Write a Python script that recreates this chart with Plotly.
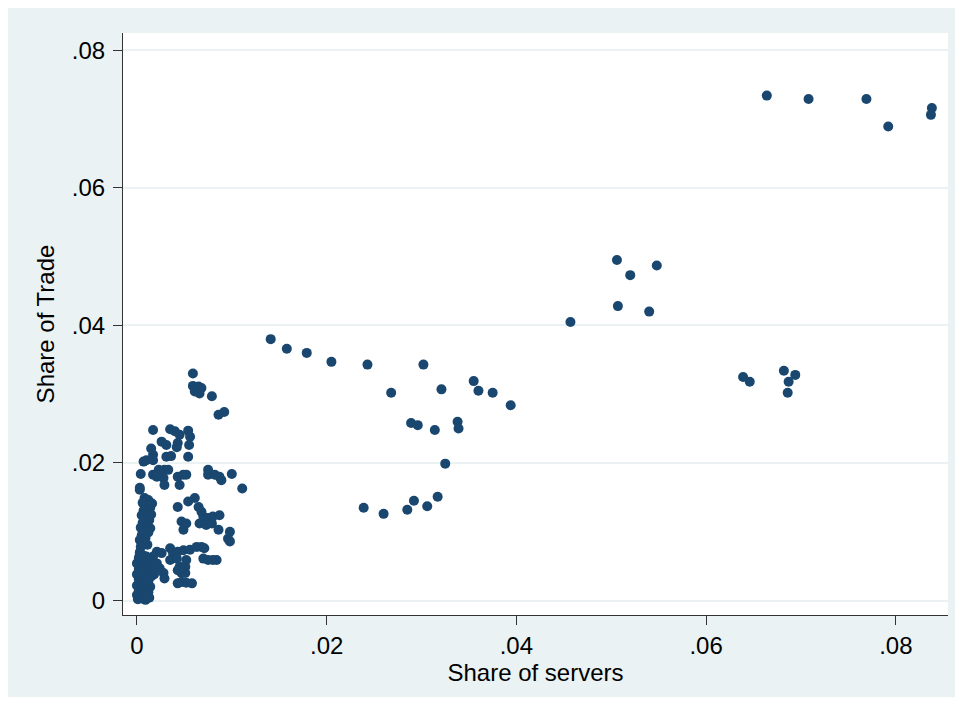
import plotly.graph_objects as go

# Share of servers (x) and Share of Trade (y)
share_servers = [
    # high outliers
    0.0664, 0.0708, 0.0769, 0.0792, 0.0838, 0.0837,
    0.0506, 0.0520, 0.0548, 0.0507, 0.0540, 0.0457,
    0.0639, 0.0646, 0.0682, 0.0694, 0.0687, 0.0686,
    # middle group
    0.0141, 0.0158, 0.0179, 0.0205, 0.0243, 0.0302, 0.0268, 0.0321, 0.0355, 0.0360,
    0.0375, 0.0394, 0.0289, 0.0296, 0.0314, 0.0338, 0.0339, 0.0325, 0.0239, 0.0260,
    0.0285, 0.0292, 0.0306, 0.0317,
    # dense cluster
    0.0059, 0.0059, 0.0065, 0.0068, 0.0066, 0.0061, 0.0079, 0.0086, 0.0092, 0.0017,
    0.0035, 0.0040, 0.0045, 0.0054, 0.0056, 0.0026, 0.0031, 0.0043, 0.0042, 0.0055,
    0.0015, 0.0017, 0.0010, 0.0007, 0.0017, 0.0031, 0.0036, 0.0054, 0.0004, 0.0017,
    0.0023, 0.0029, 0.0033, 0.0021, 0.0028, 0.0029, 0.0043, 0.0049, 0.0052, 0.0045,
    0.0075, 0.0075, 0.0082, 0.0087, 0.0089, 0.0100, 0.0111, 0.0003, 0.0043, 0.0054,
    0.0061, 0.0065, 0.0068, 0.0070, 0.0075, 0.0080, 0.0087, 0.0047, 0.0052, 0.0049,
    0.0066, 0.0073, 0.0079, 0.0086, 0.0098, 0.0096, 0.0098, 0.0006, 0.0021, 0.0026,
    0.0035, 0.0038, 0.0043, 0.0049, 0.0056, 0.0063, 0.0068, 0.0071, 0.0035, 0.0042,
    0.0045, 0.0051, 0.0052, 0.0047, 0.0051, 0.0043, 0.0070, 0.0075, 0.0080, 0.0084,
    0.0017, 0.0021, 0.0024, 0.0028, 0.0029, 0.0043, 0.0047, 0.0052, 0.0058, 0.0003,
    # narrow column near zero
    0.0008, 0.0012, 0.0006, 0.0010, 0.0014, 0.0007, 0.0011, 0.0005, 0.0009, 0.0013,
    0.0006, 0.0010, 0.0004, 0.0008, 0.0012, 0.0005, 0.0009, 0.0003, 0.0007, 0.0011,
    0.0004, 0.0016, 0.0015, 0.0014,
    # bottom block near the origin
    0.0001, 0.0005, 0.0009, 0.0013, 0.0000, 0.0004, 0.0008, 0.0012, 0.0002, 0.0006,
    0.0010, 0.0014, 0.0000, 0.0004, 0.0008, 0.0012, 0.0002, 0.0006, 0.0010, 0.0015,
    0.0000, 0.0004, 0.0008, 0.0012, 0.0002, 0.0006, 0.0010, 0.0014, 0.0000, 0.0004,
    0.0008, 0.0012, 0.0002, 0.0006, 0.0010, 0.0003, 0.0016, 0.0018,
]

share_trade = [
    0.0734, 0.0729, 0.0729, 0.0689, 0.0716, 0.0706,
    0.0495, 0.0473, 0.0487, 0.0428, 0.0420, 0.0405,
    0.0325, 0.0318, 0.0334, 0.0328, 0.0318, 0.0302,
    0.0380, 0.0366, 0.0360, 0.0347, 0.0343, 0.0343, 0.0302, 0.0307, 0.0319, 0.0305,
    0.0302, 0.0284, 0.0258, 0.0255, 0.0248, 0.0260, 0.0250, 0.0199, 0.0135, 0.0126,
    0.0132, 0.0145, 0.0137, 0.0151,
    0.0330, 0.0312, 0.0311, 0.0309, 0.0301, 0.0304, 0.0297, 0.0270, 0.0274, 0.0248,
    0.0249, 0.0246, 0.0241, 0.0247, 0.0238, 0.0231, 0.0226, 0.0229, 0.0223, 0.0226,
    0.0221, 0.0212, 0.0204, 0.0202, 0.0204, 0.0209, 0.0210, 0.0209, 0.0184, 0.0183,
    0.0190, 0.0190, 0.0190, 0.0180, 0.0178, 0.0168, 0.0180, 0.0183, 0.0183, 0.0168,
    0.0190, 0.0183, 0.0183, 0.0180, 0.0175, 0.0184, 0.0163, 0.0161, 0.0136, 0.0144,
    0.0149, 0.0136, 0.0129, 0.0122, 0.0120, 0.0122, 0.0124, 0.0115, 0.0112, 0.0103,
    0.0112, 0.0110, 0.0112, 0.0103, 0.0100, 0.0090, 0.0086, 0.0083, 0.0071, 0.0069,
    0.0076, 0.0069, 0.0071, 0.0073, 0.0074, 0.0078, 0.0078, 0.0076, 0.0059, 0.0061,
    0.0049, 0.0049, 0.0059, 0.0040, 0.0040, 0.0044, 0.0061, 0.0059, 0.0059, 0.0059,
    0.0064, 0.0054, 0.0047, 0.0040, 0.0032, 0.0025, 0.0027, 0.0026, 0.0025, 0.0164,
    0.0149, 0.0146, 0.0142, 0.0138, 0.0135, 0.0131, 0.0127, 0.0124, 0.0120, 0.0117,
    0.0113, 0.0110, 0.0106, 0.0102, 0.0099, 0.0095, 0.0091, 0.0088, 0.0085, 0.0081,
    0.0078, 0.0141, 0.0125, 0.0105,
    0.0002, 0.0003, 0.0001, 0.0004, 0.0008, 0.0010, 0.0007, 0.0012, 0.0015, 0.0018,
    0.0016, 0.0020, 0.0022, 0.0025, 0.0024, 0.0028, 0.0031, 0.0033, 0.0030, 0.0035,
    0.0038, 0.0041, 0.0039, 0.0043, 0.0046, 0.0049, 0.0047, 0.0051, 0.0054, 0.0057,
    0.0055, 0.0059, 0.0062, 0.0066, 0.0064, 0.0070, 0.0045, 0.0038,
]

tick_vals = [0, 0.02, 0.04, 0.06, 0.08]
tick_text = ["0", ".02", ".04", ".06", ".08"]

FONT = "Arial, 'Liberation Sans', sans-serif"
NAVY = "#1a476f"
BG = "#eaf2f3"
FS = 24

fig = go.Figure(
    go.Scatter(
        x=share_servers,
        y=share_trade,
        mode="markers",
        marker=dict(color=NAVY, size=10, line=dict(width=0)),
        showlegend=False,
    )
)

# page body has an 8px margin; the figure itself is the light Stata-style panel
W, H = 947, 689
L, R, T, B = 115, 7, 25, 82

fig.update_layout(
    width=W, height=H,
    margin=dict(l=L, r=R, t=T, b=B),
    paper_bgcolor=BG,
    plot_bgcolor="white",
    font=dict(family=FONT, size=FS, color="black"),
)

fig.update_xaxes(
    range=[-0.00147, 0.0855],
    tickvals=tick_vals, ticktext=tick_text,
    ticks="outside", ticklen=9, tickwidth=1, tickcolor="#333333",
    showline=True, linecolor="#333333", linewidth=1,
    showgrid=False, zeroline=False,
    tickfont=dict(size=FS, color="black"),
    ticklabelstandoff=0,
    title=dict(text="Share of servers", font=dict(size=FS, color="black"), standoff=0),
)
fig.update_yaxes(
    range=[-0.0021, 0.0825],
    tickvals=tick_vals, ticktext=tick_text,
    ticks="outside", ticklen=9, tickwidth=1, tickcolor="#333333",
    showline=True, linecolor="#333333", linewidth=1,
    showgrid=True, gridcolor=BG, gridwidth=2,
    zeroline=True, zerolinecolor=BG, zerolinewidth=2,
    tickfont=dict(size=FS, color="black"),
    ticklabelstandoff=3,
    title=dict(text="Share of Trade", font=dict(size=FS, color="black"), standoff=10),
)

fig.write_html("out.html")
